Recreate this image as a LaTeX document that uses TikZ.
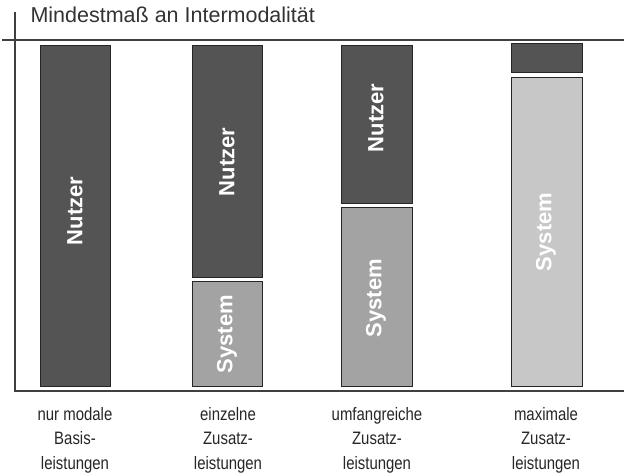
\documentclass[tikz,border=0pt]{standalone}
\usepackage{fontspec}
\setmainfont{Liberation Sans}
\newfontfamily\narrowsans[FakeStretch=0.83]{Liberation Sans}
\begin{document}
\begin{tikzpicture}[x=1pt,y=-1pt,
  nutzer/.style={fill=nutzergray,draw=black!85,line width=0.8pt},
  system/.style={fill=systemgray,draw=black!85,line width=0.8pt},
  barlabel/.style={text=white,font=\fontsize{22}{22}\selectfont\bfseries,rotate=90},
  catlabel/.style={align=center,font=\narrowsans\fontsize{18}{24.5}\selectfont,text=black!85},
  axis/.style={draw=black!75,line width=1.6pt}]
\definecolor{nutzergray}{gray}{0.33}
\definecolor{systemgray}{gray}{0.64}
\definecolor{systemlight}{gray}{0.78}
\useasboundingbox (0,0) rectangle (624,474);
% axes
\coordinate (vt) at (15,12);
\coordinate (vb) at (15,392);
\coordinate (hl) at (2,40);
\coordinate (hr) at (624,40);
\coordinate (br) at (624,391);
\draw[axis] (vt) -- (vb);
\draw[axis] (hl) -- (hr);
\draw[axis] (15,391) -- (br);
\node[anchor=west,font=\fontsize{21.5}{21.5}\selectfont,text=black!80] (title) at (27,15) {Mindestmaß an Intermodalität};
% bar 1
\path[nutzer] (40,45) rectangle (110,386);
\node[barlabel] (n1) at (75,211) {Nutzer};
% bar 2
\path[nutzer] (192,45) rectangle (262,277);
\node[barlabel] (n2) at (227,162) {Nutzer};
\path[system] (192,281) rectangle (262,386);
\node[barlabel] (s2) at (227,334) {System};
% bar 3
\path[nutzer] (341,45) rectangle (412,203);
\node[barlabel] (n3) at (376,118) {Nutzer};
\path[system] (341,207) rectangle (412,386);
\node[barlabel] (s3) at (376,298) {System};
% bar 4
\path[nutzer] (511,43) rectangle (582,72);
\path[fill=systemlight,draw=black!85,line width=0.8pt] (511,77) rectangle (582,386);
\node[barlabel] (s4) at (546,232) {System};
% category labels
\node[catlabel] (c1) at (75,440) {nur modale\\Basis-\\leistungen};
\node[catlabel] (c2) at (228,440) {einzelne\\Zusatz-\\leistungen};
\node[catlabel] (c3) at (377,440) {umfangreiche\\Zusatz-\\leistungen};
\node[catlabel] (c4) at (546,440) {maximale\\Zusatz-\\leistungen};
\end{tikzpicture}
\end{document}
